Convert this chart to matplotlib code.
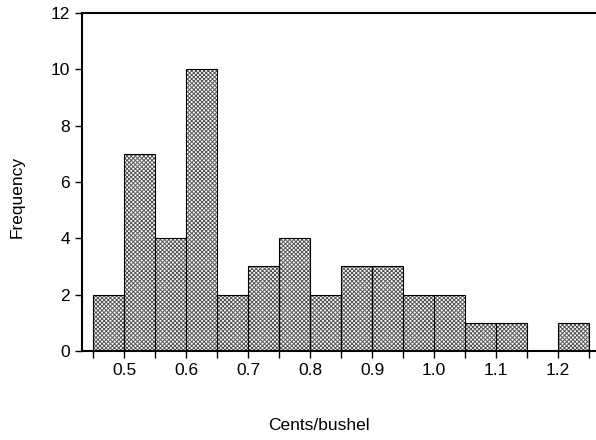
import matplotlib
matplotlib.use("Agg")
from matplotlib import pyplot as plt
import matplotlib.ticker as ticker

plt.rcParams['font.family'] = ['Liberation Sans', 'DejaVu Sans']
plt.rcParams['hatch.linewidth'] = 0.7

bin_left = [0.45, 0.50, 0.55, 0.60, 0.65, 0.70, 0.75, 0.80,
            0.85, 0.90, 0.95, 1.00, 1.05, 1.10, 1.15, 1.20]
counts = [2, 7, 4, 10, 2, 3, 4, 2, 3, 3, 2, 2, 1, 1, 0, 1]
bin_width = 0.05
x_ticks = [0.5, 0.6, 0.7, 0.8, 0.9, 1.0, 1.1, 1.2]
y_ticks = [0, 2, 4, 6, 8, 10, 12]

fig = plt.figure(figsize=(5.96, 4.40), dpi=100)
ax = fig.add_axes([0.1376, 0.2023, 0.8624, 0.7682])

# hatch fill in gray, then black outlines on top
ax.bar(bin_left, counts, width=bin_width, align='edge', color='white',
       edgecolor='#555555', hatch='xxxxxxxx', linewidth=0)
ax.bar(bin_left, counts, width=bin_width, align='edge', fill=False,
       edgecolor='black', linewidth=0.8)

ax.set_xlim(0.432, 1.261)
ax.set_ylim(0, 12)

ax.spines.right.set_visible(False)
for side in ['left', 'bottom', 'top']:
    ax.spines[side].set_linewidth(1.5)

ax.xaxis.set_major_locator(ticker.FixedLocator(x_ticks))
ax.xaxis.set_minor_locator(ticker.MultipleLocator(0.05))
ax.xaxis.set_major_formatter(ticker.FormatStrFormatter('%.1f'))
ax.set_yticks(y_ticks)
ax.tick_params(axis='both', which='both', direction='out', length=5,
               width=1.0, labelsize=12.5)

ax.set_xlabel('Cents/bushel', fontsize=12.5, labelpad=29)
ax.set_ylabel('Frequency', fontsize=12.5, labelpad=19)
ax.xaxis.label.set_x(0.461)
ax.yaxis.label.set_y(0.456)

plt.savefig('out.png', dpi=100)
plt.close()
